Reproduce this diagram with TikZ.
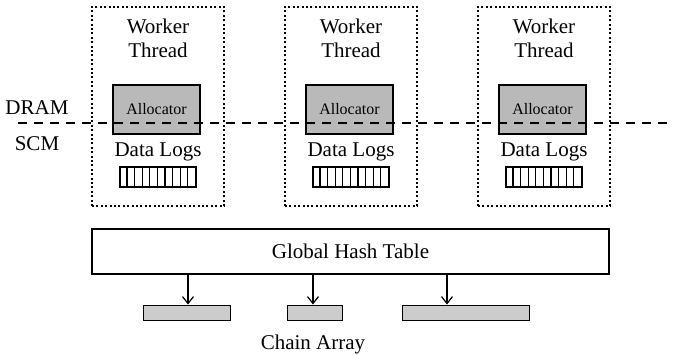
\documentclass[tikz,border=0pt]{standalone}
\usepackage{fontspec}
\setmainfont{Liberation Serif}
\usetikzlibrary{arrows.meta,calc}

\tikzset{
  thread/.style={draw,line width=1.7pt,dash pattern=on 2pt off 2.4pt,
    minimum width=132pt,minimum height=199pt,inner sep=0pt},
  allocbox/.style={draw,line width=1.4pt,fill=gray!55,minimum width=87pt,
    minimum height=49pt,inner sep=0pt,font=\fontsize{16}{18}\selectfont},
  hashbox/.style={draw,line width=1.4pt,minimum width=517pt,minimum height=45pt,inner sep=0pt},
  chainbox/.style={draw,line width=0.9pt,fill=gray!40,minimum height=15pt,inner sep=0pt},
  lbl/.style={inner sep=0pt}
}

\begin{document}
\begin{tikzpicture}[x=1pt,y=-1pt,font=\fontsize{21}{24}\selectfont,
  >={Straight Barb[length=7pt,width=11pt,line width=1.2pt]}]
\useasboundingbox (0,0) rectangle (673,355);

% worker threads
\foreach \i/\cx in {1/158,2/351,3/544} {
  \node[thread] (w\i) at (\cx,106.5) {};
  \node[lbl] (wk\i) at (\cx,26) {Worker};
  \node[lbl] (th\i) at (\cx,50) {Thread};
  \node[allocbox] (al\i) at (\cx-1.5,109.5) {\raisebox{2pt}{Allocator}};
  \node[lbl] (dl\i) at (\cx,152) {Data Logs};
  % log slots
  \node[draw,line width=1.3pt,minimum width=76pt,minimum height=20pt,inner sep=0pt]
    (lg\i) at (\cx,177) {};
  \foreach \k in {1,...,9}
    \draw[line width=1.3pt] ($(lg\i.north west)+(7.6*\k,0)$) -- ($(lg\i.south west)+(7.6*\k,0)$);
}

% DRAM / SCM split
\coordinate (sl) at (18,123);
\coordinate (sr) at (673,123);
\draw[line width=1.4pt,dash pattern=on 9pt off 7pt] (sl) -- (sr);
\node[lbl] (dram) at (37,108) {DRAM};
\node[lbl] (scm) at (37,144) {SCM};

% hash table and chains
\node[hashbox] (ht) at (350.5,251.5) {Global Hash Table};
\node[chainbox,minimum width=87pt] (c1) at (186.5,312.5) {};
\node[chainbox,minimum width=55pt] (c2) at (314.5,312.5) {};
\node[chainbox,minimum width=127pt] (c3) at (465.5,312.5) {};
\coordinate (a1) at (188,0);
\coordinate (a2) at (313,0);
\coordinate (a3) at (447,0);
\foreach \j in {1,2,3}
  \draw[->,line width=1.2pt] (ht.south -| a\j) -- (c\j.north -| a\j);
\node[lbl] (ca) at (313,344) {Chain Array};
\end{tikzpicture}
\end{document}
